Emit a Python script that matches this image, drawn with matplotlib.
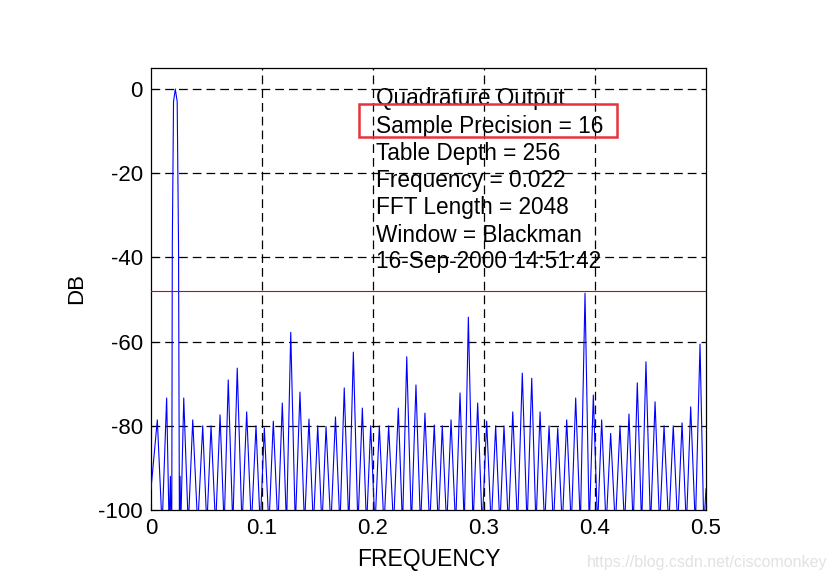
import matplotlib
matplotlib.use("Agg")
import matplotlib.pyplot as plt
from matplotlib.patches import Rectangle

plt.rcParams['font.family'] = ['Liberation Sans', 'DejaVu Sans']
plt.rcParams['axes.unicode_minus'] = False

# spectrum trace (frequency, dB)
freq = [0.0, 0.0057, 0.0100, 0.0141, 0.0163, 0.0175, 0.0180,
        0.0187, 0.0192, 0.0203, 0.0219, 0.0236, 0.0248, 0.0256,
        0.0262, 0.0268, 0.0295, 0.0336, 0.0376, 0.0421, 0.0466, 0.0503,
        0.0541, 0.0582, 0.0622, 0.0659, 0.0696, 0.0737, 0.0777, 0.0820,
        0.0862, 0.0904, 0.0946, 0.0984, 0.1021, 0.1062, 0.1102, 0.1143,
        0.1183, 0.1221, 0.1259, 0.1300, 0.1342, 0.1383, 0.1423, 0.1463,
        0.1502, 0.1540, 0.1577, 0.1620, 0.1662, 0.1702, 0.1741, 0.1782,
        0.1823, 0.1864, 0.1904, 0.1942, 0.1979, 0.2018, 0.2057, 0.2099,
        0.2141, 0.2185, 0.2228, 0.2266, 0.2304, 0.2346, 0.2387, 0.2428,
        0.2468, 0.2510, 0.2552, 0.2588, 0.2624, 0.2664, 0.2703, 0.2744,
        0.2784, 0.2822, 0.2859, 0.2901, 0.2943, 0.2984, 0.3024, 0.3065,
        0.3105, 0.3143, 0.3180, 0.3220, 0.3259, 0.3302, 0.3345, 0.3388,
        0.3430, 0.3468, 0.3505, 0.3546, 0.3586, 0.3625, 0.3664, 0.3705,
        0.3745, 0.3786, 0.3826, 0.3868, 0.3910, 0.3948, 0.3985, 0.4023,
        0.4060, 0.4100, 0.4141, 0.4183, 0.4225, 0.4266, 0.4306, 0.4344,
        0.4381, 0.4420, 0.4459, 0.4500, 0.4541, 0.4582, 0.4622, 0.4664,
        0.4705, 0.4745, 0.4784, 0.4823, 0.4862, 0.4904, 0.4946, 0.4980,
        0.5]
db = [-95, -78.6, -104, -73.4, -104, -92, -104,
      -104, -37, -3, 0, -3, -37, -104,
      -92, -104, -73.4, -104, -78.6, -104, -80, -104,
      -80, -104, -77.4, -104, -69.1, -104, -66.3, -104,
      -76.7, -104, -80, -104, -80.5, -104, -78.9, -104,
      -74.6, -104, -57.8, -104, -72, -104, -78.4, -104,
      -80, -104, -80.2, -104, -77.9, -104, -71, -104,
      -62.5, -104, -75.8, -104, -80, -104, -80, -104,
      -80, -104, -75.8, -104, -63.6, -104, -70.3, -104,
      -77, -104, -79.8, -104, -80, -104, -78.6, -104,
      -72.2, -104, -54.2, -104, -74.6, -104, -78.9, -104,
      -80, -104, -80, -104, -76.7, -104, -67.5, -104,
      -68.7, -104, -76.7, -104, -80, -104, -80.5, -104,
      -78.6, -104, -73.4, -104, -48.5, -104, -72.7, -104,
      -78.6, -104, -81.8, -104, -80, -104, -77.2, -104,
      -69.8, -104, -64.8, -104, -74.3, -104, -80, -104,
      -80, -104, -79.3, -104, -75.5, -104, -60.6, -104,
      -95]

threshold = -48
xticks = [0, 0.1, 0.2, 0.3, 0.4, 0.5]
xticklabels = ['0', '0.1', '0.2', '0.3', '0.4', '0.5']
yticks = [-100, -80, -60, -40, -20, 0]

info_lines = ['Quadrature Output', 'Sample Precision = 16', 'Table Depth = 256',
              'Frequency = 0.022', 'FFT Length = 2048', 'Window = Blackman',
              '16-Sep-2000 14:51:42']

fig = plt.figure(figsize=(8.37, 5.79), dpi=100)
ax = fig.add_axes([0.1804, 0.1192, 0.6631, 0.7634])

ax.plot(freq, db, color='#0000ff', lw=0.8, zorder=3)
ax.axhline(threshold, color='#dd0000', lw=0.8, zorder=3)

ax.set_xlim(0, 0.5)
ax.set_ylim(-100, 5)
ax.set_xticks(xticks)
ax.set_xticklabels(xticklabels)
ax.set_yticks(yticks)
ax.tick_params(direction='in', length=5, labelsize=16, pad=6)

for v in xticks[1:-1]:
    ax.axvline(v, color='black', lw=0.9, dashes=(7, 4), zorder=2)
for v in yticks[1:]:
    ax.axhline(v, color='black', lw=0.9, dashes=(7, 4), zorder=2)

for s in ax.spines.values():
    s.set_linewidth(0.9)

ax.set_xlabel('FREQUENCY', fontsize=16.5, labelpad=6)
ax.set_ylabel('DB', fontsize=16, labelpad=8)

baselines = [-3.8, -10.45, -16.75, -23.3, -29.7, -36.3, -42.5]
for txt, yb in zip(info_lines, baselines):
    ax.text(0.2027, yb, txt, fontsize=16.3, va='baseline', ha='left', zorder=4)

ax.add_patch(Rectangle((0.1874, -11.4), 0.2324, 7.84, fill=False,
                       edgecolor='#e8323c', lw=1.8, clip_on=False, zorder=5))

fig.text(0.989, 0.028, 'https://blog.csdn.net/ciscomonkey', fontsize=11.5,
         color='#e2e2e2', ha='right', va='center')

fig.savefig('out.png', dpi=100)
